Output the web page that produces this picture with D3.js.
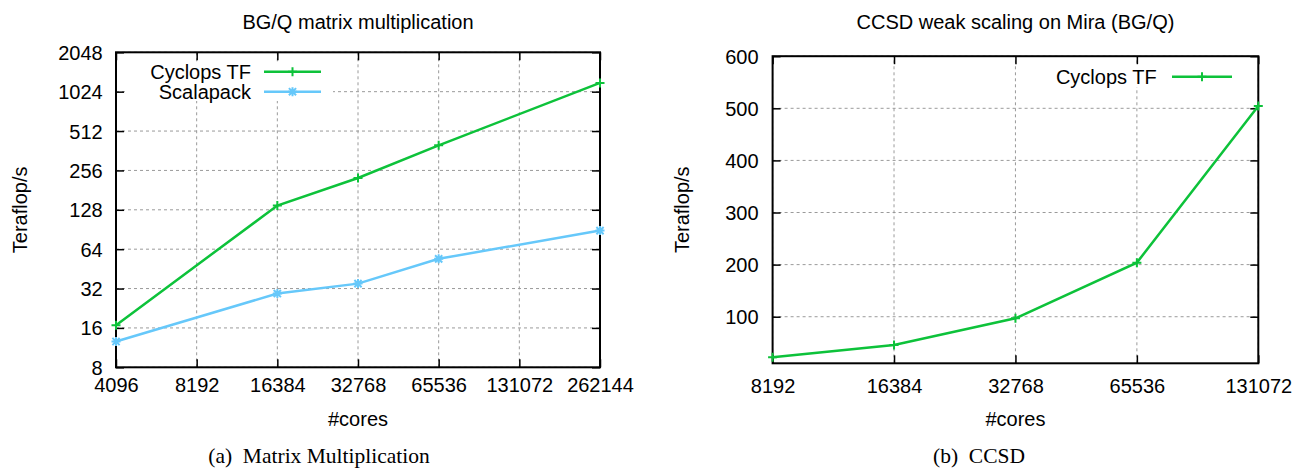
<!DOCTYPE html>
<html>
<head>
<meta charset="utf-8">
<script src="https://cdn.jsdelivr.net/npm/d3@7"></script>
<style>
  html, body { margin: 0; padding: 0; background: #fff; }
  svg { display: block; }
  text { font-family: "Liberation Sans", Arial, Helvetica, sans-serif; fill: #000; }
  .cap { font-family: "Liberation Serif", "Times New Roman", serif; }
</style>
</head>
<body>
<svg id="chart" width="1298" height="470"></svg>
<script>
// ---------- data ----------
const mmCores = [4096, 16384, 32768, 65536, 262144];
const mmCyclops = [16.8, 138, 224, 398, 1195];
const mmScalapack = [12.6, 29.3, 34.9, 54, 88.8];
const mmXTicks = [4096, 8192, 16384, 32768, 65536, 131072, 262144];
const mmYTicks = [8, 16, 32, 64, 128, 256, 512, 1024, 2048];

const ccsdCores = [8192, 16384, 32768, 65536, 131072];
const ccsdCyclops = [22, 45.7, 97, 203.8, 504.4];
const ccsdXTicks = [8192, 16384, 32768, 65536, 131072];
const ccsdYTicks = [100, 200, 300, 400, 500, 600];

const titles = ["BG/Q matrix multiplication", "CCSD weak scaling on Mira (BG/Q)"];
const captions = ["(a)  Matrix Multiplication", "(b)  CCSD"];
const GREEN = "#0dc23a";
const BLUE = "#66c8fa";

const svg = d3.select("#chart");
const FS = 20;

function drawPanel(cfg) {
  const g = svg.append("g");
  const x = cfg.x, y = cfg.y;
  const [x0, x1] = x.range();
  const [y0, y1] = y.range(); // y0 bottom, y1 top

  // grid
  g.append("g").selectAll("line.gy").data(cfg.yTicks).join("line")
    .attr("x1", x0).attr("x2", x1).attr("y1", d => y(d)).attr("y2", d => y(d))
    .attr("stroke", "#9a9a9a").attr("stroke-width", 1).attr("stroke-dasharray", "3,3");
  g.append("g").selectAll("line.gx").data(cfg.xTicks).join("line")
    .attr("x1", d => x(d)).attr("x2", d => x(d)).attr("y1", y0).attr("y2", y1)
    .attr("stroke", "#9a9a9a").attr("stroke-width", 1).attr("stroke-dasharray", "3,3");

  // axes via d3 (inward ticks, mirrored)
  const tl = 8;
  const ax = g.append("g").attr("transform", `translate(0,${y0})`)
    .call(d3.axisBottom(x).tickValues(cfg.xTicks).tickSize(-tl).tickFormat(d => d));
  const axT = g.append("g").attr("transform", `translate(0,${y1})`)
    .call(d3.axisTop(x).tickValues(cfg.xTicks).tickSize(-tl).tickFormat(""));
  const ay = g.append("g").attr("transform", `translate(${x0},0)`)
    .call(d3.axisLeft(y).tickValues(cfg.yTicks).tickSize(-tl).tickFormat(d => d));
  const ayR = g.append("g").attr("transform", `translate(${x1},0)`)
    .call(d3.axisRight(y).tickValues(cfg.yTicks).tickSize(-tl).tickFormat(""));
  [ax, axT, ay, ayR].forEach(a => {
    a.select(".domain").remove();
    a.selectAll(".tick line").attr("stroke", "#000").attr("stroke-width", 1.5);
  });
  ax.selectAll(".tick text").attr("y", null).attr("dy", null)
    .attr("transform", `translate(0,${cfg.xLabelBase - y0})`)
    .style("font-size", FS + "px").attr("fill", "#000");
  ay.selectAll(".tick text").attr("x", -cfg.yLabelGap).attr("dy", "0.35em")
    .style("font-size", FS + "px").attr("fill", "#000");

  // border
  g.append("rect").attr("x", x0).attr("y", y1).attr("width", x1 - x0).attr("height", y0 - y1)
    .attr("fill", "none").attr("stroke", "#000").attr("stroke-width", 2);

  // series
  const line = d3.line().x(d => x(d[0])).y(d => y(d[1]));
  cfg.series.forEach(s => {
    const pts = cfg.cores.map((c, i) => [c, s.values[i]]);
    g.append("path").datum(pts).attr("d", line)
      .attr("fill", "none").attr("stroke", s.color).attr("stroke-width", 2.5);
    pts.forEach(p => marker(g, x(p[0]), y(p[1]), s.marker, s.color));
  });

  // legend (opaque)
  const lg = cfg.legend;
  g.append("rect").attr("x", lg.box[0]).attr("y", lg.box[1])
    .attr("width", lg.box[2]).attr("height", lg.box[3]).attr("fill", "#fff");
  cfg.series.forEach((s, i) => {
    const cy = lg.y + i * lg.dy;
    g.append("text").attr("x", lg.textRight).attr("y", cy).attr("dy", "0.35em")
      .attr("text-anchor", "end").style("font-size", FS + "px").text(s.name);
    g.append("line").attr("x1", lg.lineX[0]).attr("x2", lg.lineX[1])
      .attr("y1", cy).attr("y2", cy).attr("stroke", s.color).attr("stroke-width", 2.5);
    marker(g, (lg.lineX[0] + lg.lineX[1]) / 2, cy, s.marker, s.color);
  });

  // titles
  g.append("text").attr("x", (x0 + x1) / 2).attr("y", cfg.titleBase)
    .attr("text-anchor", "middle").style("font-size", FS + "px").text(cfg.title);
  g.append("text").attr("x", (x0 + x1) / 2).attr("y", cfg.xTitleBase)
    .attr("text-anchor", "middle").style("font-size", FS + "px").text("#cores");
  g.append("text").attr("transform", `translate(${cfg.yTitleX},${(y0 + y1) / 2}) rotate(-90)`)
    .attr("dy", "0.35em").attr("text-anchor", "middle").style("font-size", FS + "px").text("Teraflop/s");
  g.append("text").attr("class", "cap").attr("x", cfg.capX).attr("y", cfg.capBase)
    .attr("text-anchor", "middle").style("font-size", "21.5px").style("white-space", "pre")
    .text(cfg.caption);
}

function marker(g, cx, cy, type, color) {
  const r = 4.5;
  let d = `M${cx - r},${cy}H${cx + r}M${cx},${cy - r}V${cy + r}`;
  if (type === "star") {
    const q = r * 0.8;
    d += `M${cx - q},${cy - q}L${cx + q},${cy + q}M${cx - q},${cy + q}L${cx + q},${cy - q}`;
  }
  g.append("path").attr("d", d).attr("stroke", color).attr("stroke-width", 2).attr("fill", "none");
}

// ---------- panel (a) ----------
drawPanel({
  x: d3.scaleLog().base(2).domain([4096, 262144]).range([116, 600]),
  y: d3.scaleLog().base(2).domain([8, 2048]).range([367.3, 52.3]),
  xTicks: mmXTicks, yTicks: mmYTicks, cores: mmCores,
  series: [
    { name: "Cyclops TF", values: mmCyclops, color: GREEN, marker: "plus" },
    { name: "Scalapack", values: mmScalapack, color: BLUE, marker: "star" }
  ],
  legend: { box: [127, 62, 206, 39], y: 71.7, dy: 20, textRight: 251, lineX: [264, 321] },
  xLabelBase: 392, yLabelGap: 13.3, title: titles[0], titleBase: 29,
  xTitleBase: 426, yTitleX: 20, caption: captions[0], capX: 319, capBase: 463
});

// ---------- panel (b) ----------
drawPanel({
  x: d3.scaleLog().base(2).domain([8192, 131072]).range([772.6, 1258.3]),
  y: d3.scaleLinear().domain([10.6, 600]).range([363.3, 56.2]),
  xTicks: ccsdXTicks, yTicks: ccsdYTicks, cores: ccsdCores,
  series: [
    { name: "Cyclops TF", values: ccsdCyclops, color: GREEN, marker: "plus" }
  ],
  legend: { box: [1050, 66, 194, 21], y: 76.7, dy: 20, textRight: 1156.7, lineX: [1172, 1232] },
  xLabelBase: 393, yLabelGap: 14, title: titles[1], titleBase: 29,
  xTitleBase: 426, yTitleX: 682, caption: captions[1], capX: 979, capBase: 463
});
</script>
</body>
</html>
